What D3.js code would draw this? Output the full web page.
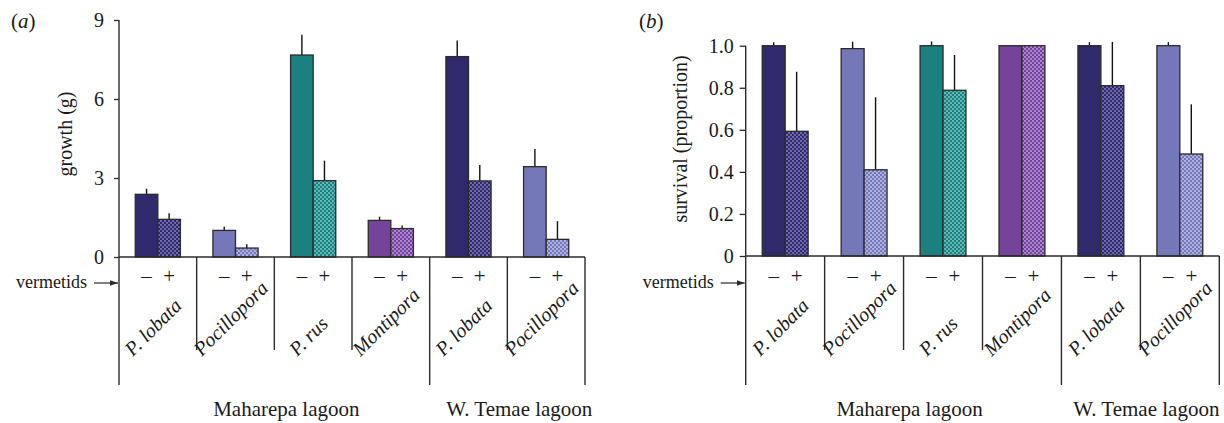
<!DOCTYPE html>
<html>
<head>
<meta charset="utf-8">
<script src="https://cdn.jsdelivr.net/npm/d3@7"></script>
<style>
  body { margin: 0; background: #fff; }
  svg { display: block; font-family: "Liberation Serif", "DejaVu Serif", serif; }
</style>
</head>
<body>
<svg width="1224" height="423"></svg>
<script>
// coral species, one group per bar pair
const species = ["P. lobata", "Pocillopora", "P. rus", "Montipora", "P. lobata", "Pocillopora"];
const lagoons = ["Maharepa lagoon", "Maharepa lagoon", "Maharepa lagoon", "Maharepa lagoon", "W. Temae lagoon", "W. Temae lagoon"];
const treatments = ["–", "+"];

// (a) growth (g)
const growthMinus = [2.38, 1.01, 7.67, 1.39, 7.61, 3.43];
const growthPlus = [1.43, 0.34, 2.90, 1.08, 2.89, 0.67];
const growthErrMinus = [0.21, 0.14, 0.77, 0.14, 0.61, 0.67];
const growthErrPlus = [0.23, 0.14, 0.76, 0.12, 0.60, 0.69];
const growthTicks = [0, 3, 6, 9];

// (b) survival (proportion)
const survivalMinus = [1.0, 0.986, 1.0, 1.0, 1.0, 1.0];
const survivalPlus = [0.593, 0.41, 0.788, 1.0, 0.81, 0.485];
const survivalErrMinus = [0.016, 0.033, 0.02, 0, 0.017, 0.017];
const survivalErrPlus = [0.283, 0.345, 0.168, 0, 0.208, 0.236];
const survivalTicks = [0, 0.2, 0.4, 0.6, 0.8, 1.0];

// colours per species: solid fill and lighter checker colour
const colors = {
  "P. lobata": ["#30296b", "#6e69aa"],
  "Pocillopora": ["#7478b8", "#aeb1e0"],
  "P. rus": ["#1b8180", "#64b8b4"],
  "Montipora": ["#74439a", "#ab86d0"]
};

const svg = d3.select("svg");
const ink = "#2b2b2b";
const txt = "#1a1a1a";

// checker patterns for the "+" bars
const defs = svg.append("defs");
Object.keys(colors).forEach((k, i) => {
  const p = defs.append("pattern")
    .attr("id", "pat" + i)
    .attr("patternUnits", "userSpaceOnUse")
    .attr("width", 4).attr("height", 4);
  p.append("rect").attr("width", 4).attr("height", 4).attr("fill", colors[k][0]);
  p.append("rect").attr("width", 2).attr("height", 2).attr("fill", colors[k][1]);
  p.append("rect").attr("x", 2).attr("y", 2).attr("width", 2).attr("height", 2).attr("fill", colors[k][1]);
});
const patId = k => "url(#pat" + Object.keys(colors).indexOf(k) + ")";

defs.append("marker")
  .attr("id", "arrow")
  .attr("viewBox", "0 0 10 10")
  .attr("refX", 10).attr("refY", 5)
  .attr("markerWidth", 8).attr("markerHeight", 8)
  .attr("markerUnits", "userSpaceOnUse")
  .attr("orient", "auto")
  .append("path").attr("d", "M0,1.5L10,5L0,8.5Z").attr("fill", ink);

function panel(cfg) {
  const g = svg.append("g");
  const y = d3.scaleLinear().domain(cfg.domain).range([cfg.y0, cfg.yTop]);
  const x0 = d3.scaleBand().domain(d3.range(species.length)).range([cfg.left, cfg.right]);
  const x1 = d3.scaleBand().domain(treatments).range([0, x0.bandwidth()]).paddingOuter(0.72);
  const bottomShort = 350, bottomLong = 385;

  // bars
  const rows = [];
  species.forEach((s, i) => {
    rows.push({i, s, t: "–", v: cfg.minus[i], e: cfg.errMinus[i], fill: colors[s][0]});
    rows.push({i, s, t: "+", v: cfg.plus[i], e: cfg.errPlus[i], fill: patId(s)});
  });

  // error bars (upper only)
  g.append("g").selectAll("line").data(rows.filter(d => d.e > 0)).join("line")
    .attr("x1", d => x0(d.i) + x1(d.t) + x1.bandwidth() / 2)
    .attr("x2", d => x0(d.i) + x1(d.t) + x1.bandwidth() / 2)
    .attr("y1", d => y(d.v))
    .attr("y2", d => y(d.v + d.e))
    .attr("stroke", "#111").attr("stroke-width", 1.4);

  g.append("g").selectAll("rect").data(rows).join("rect")
    .attr("x", d => x0(d.i) + x1(d.t))
    .attr("y", d => y(d.v))
    .attr("width", x1.bandwidth())
    .attr("height", d => y(0) - y(d.v))
    .attr("fill", d => d.fill)
    .attr("stroke", ink).attr("stroke-width", 1.3);

  // y axis
  const ax = g.append("g")
    .attr("transform", `translate(${cfg.left},0)`)
    .call(d3.axisLeft(y).tickValues(cfg.ticks).tickSize(cfg.tickSize)
      .tickPadding(cfg.tickPad).tickSizeOuter(0).tickFormat(cfg.fmt));
  ax.select(".domain").remove();
  ax.selectAll(".tick line").attr("stroke", ink).attr("stroke-width", 1.3);
  ax.selectAll(".tick text").attr("fill", txt)
    .style("font-family", "Liberation Serif").style("font-size", "20px");

  // axis line, baseline, group separators
  g.append("line").attr("x1", cfg.left).attr("x2", cfg.left)
    .attr("y1", y(cfg.domain[1])).attr("y2", bottomLong)
    .attr("stroke", ink).attr("stroke-width", 1.4);
  g.append("line").attr("x1", cfg.left).attr("x2", cfg.right)
    .attr("y1", y(0)).attr("y2", y(0))
    .attr("stroke", ink).attr("stroke-width", 1.4);
  d3.range(1, species.length + 1).forEach(i => {
    const xx = i < species.length ? x0(i) : cfg.right;
    const long = i === species.length || lagoons[i] !== lagoons[i - 1];
    g.append("line").attr("x1", xx).attr("x2", xx)
      .attr("y1", y(0)).attr("y2", long ? bottomLong : bottomShort)
      .attr("stroke", ink).attr("stroke-width", 1.4);
  });

  // treatment signs
  species.forEach((s, i) => {
    treatments.forEach(t => {
      g.append("text")
        .attr("x", x0(i) + x1(t) + x1.bandwidth() / 2)
        .attr("y", 283)
        .attr("text-anchor", "middle")
        .attr("fill", txt)
        .style("font-size", "21px")
        .text(t);
    });
  });

  // species names, rotated 45°
  species.forEach((s, i) => {
    const cx = x0(i) + x0.bandwidth() / 2;
    const t = g.append("text")
      .attr("fill", txt)
      .style("font-size", "20px").style("font-style", "italic")
      .text(s);
    const L = t.node().getComputedTextLength();
    const sx = cx - L * Math.SQRT1_2 / 2, sy = 357;
    t.attr("transform", `translate(${sx},${sy}) rotate(-45)`);
  });

  // lagoon names
  const lg = d3.groups(species.map((s, i) => ({i, l: lagoons[i]})), d => d.l);
  lg.forEach(([name, items]) => {
    const a = x0(items[0].i), b = x0(items[items.length - 1].i) + x0.bandwidth();
    g.append("text")
      .attr("x", (a + b) / 2 + cfg.lagoonShift)
      .attr("y", 416)
      .attr("text-anchor", "middle")
      .attr("fill", txt)
      .style("font-size", "21px")
      .text(name);
  });

  // vermetids arrow
  g.append("text")
    .attr("x", cfg.left - 32).attr("y", 288)
    .attr("text-anchor", "end").attr("fill", txt)
    .style("font-size", "18px")
    .text("vermetids");
  g.append("line")
    .attr("x1", cfg.left - 25).attr("x2", cfg.left - 1)
    .attr("y1", 283).attr("y2", 283)
    .attr("stroke", ink).attr("stroke-width", 1.2)
    .attr("marker-end", "url(#arrow)");

  // y title
  g.append("text")
    .attr("transform", `translate(${cfg.titleX},${cfg.titleY}) rotate(-90)`)
    .attr("text-anchor", "middle").attr("fill", txt)
    .style("font-size", "20px")
    .text(cfg.title);

  // panel letter
  g.append("text")
    .attr("x", cfg.letterX).attr("y", 28)
    .attr("fill", txt).style("font-size", "21px")
    .html(`(<tspan font-style="italic">${cfg.letter}</tspan>)`);
}

panel({
  left: 119, right: 585, y0: 257, yTop: 20, domain: [0, 9],
  minus: growthMinus, plus: growthPlus, errMinus: growthErrMinus, errPlus: growthErrPlus,
  ticks: growthTicks, fmt: d3.format("d"), tickSize: 5, tickPad: 10,
  title: "growth (g)", titleX: 72, titleY: 134, letter: "a", letterX: 11, lagoonShift: 12
});

panel({
  left: 745.7, right: 1219.3, y0: 256, yTop: 45.7, domain: [0, 1],
  minus: survivalMinus, plus: survivalPlus, errMinus: survivalErrMinus, errPlus: survivalErrPlus,
  ticks: survivalTicks, fmt: d => d === 0 ? "0" : d3.format(".1f")(d), tickSize: 6, tickPad: 6,
  title: "survival (proportion)", titleX: 687, titleY: 139, letter: "b", letterX: 639, lagoonShift: 6
});
</script>
</body>
</html>
